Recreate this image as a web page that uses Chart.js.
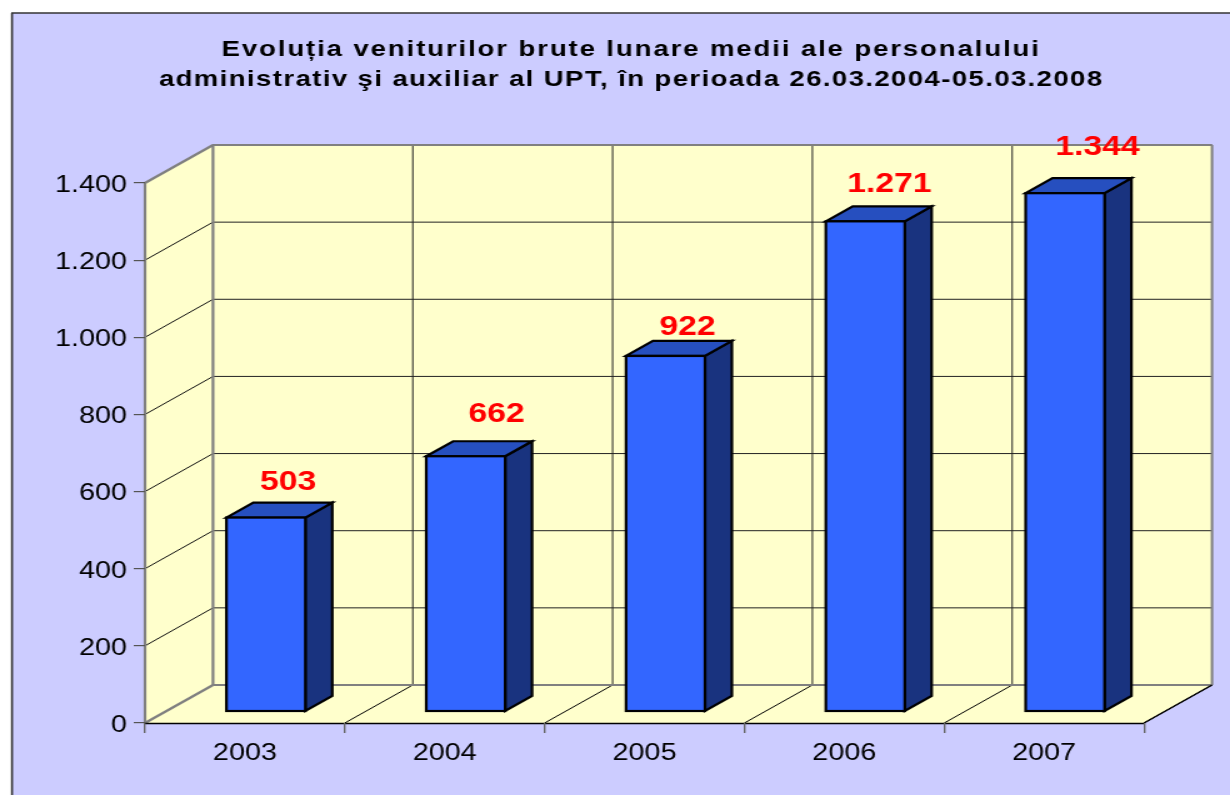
<!DOCTYPE html>
<html>
<head>
<meta charset="utf-8">
<style>
  html, body { margin: 0; padding: 0; background: #fff; overflow: hidden; }
  /* the source picture is stretched sideways by a quarter, text included */
  #myChart { display: block; transform: scaleX(1.25); transform-origin: 0 0; }
</style>
<script src="https://cdn.jsdelivr.net/npm/chart.js@4"></script>
</head>
<body>
<canvas id="myChart" width="984" height="795"></canvas>
<script>
const years = ['2003', '2004', '2005', '2006', '2007']
const income = [503, 662, 922, 1271, 1344]
const incomeLabels = ['503', '662', '922', '1.271', '1.344']
const yTickLabels = ['0', '200', '400', '600', '800', '1.000', '1.200', '1.400']
const titleLines = [
  'Evoluția veniturilor brute lunare medii ale personalului',
  'administrativ şi auxiliar al UPT, în perioada 26.03.2004-05.03.2008'
]

// each title line has its own tracking in the original
const titleSpacing = ['1.53px', '1.13px']
const titleBaseline = [56, 86]
const titleCenter = 505

// the labels do not sit evenly above the bars in the original
const labelNudgeX = [17.7, 24.7, 17.7, 19.2, 26]
const labelNudgeY = [27.6, 34.6, 20.6, 29.6, 38.6]

const wallDepth = { x: 54.4, y: -38 }
const barDepth = { x: 21.5, y: -15 }
const barShift = { x: 16.8, y: -11.4 }
const barLine = 2.2

function poly(ctx, pts) {
  ctx.beginPath()
  pts.forEach((p, i) => i ? ctx.lineTo(p[0], p[1]) : ctx.moveTo(p[0], p[1]))
  ctx.closePath()
}

function seg(ctx, x1, y1, x2, y2, color, width) {
  ctx.strokeStyle = color
  ctx.lineWidth = width
  ctx.beginPath()
  ctx.moveTo(x1, y1)
  ctx.lineTo(x2, y2)
  ctx.stroke()
}

const box3d = {
  id: 'box3d',
  beforeDraw(chart) {
    const ctx = chart.ctx
    const { left: L, right: R, top: T, bottom: B } = chart.chartArea
    const dx = wallDepth.x, dy = wallDepth.y
    const xs = chart.scales.x, ys = chart.scales.y

    ctx.save()
    ctx.fillStyle = '#fff'
    ctx.fillRect(0, 0, chart.width, chart.height)
    ctx.fillStyle = '#CCCCFF'
    ctx.fillRect(10, 13, chart.width, chart.height)
    seg(ctx, 9.6, 13, 9.6, chart.height, '#333', 1.6)
    seg(ctx, 9, 13, chart.width, 13, '#333', 1.5)

    // title
    ctx.font = 'bold 22px "Liberation Sans"'
    ctx.fillStyle = '#000'
    ctx.textAlign = 'center'
    ctx.textBaseline = 'alphabetic'
    titleLines.forEach((line, i) => {
      ctx.letterSpacing = titleSpacing[i]
      ctx.fillText(line, titleCenter, titleBaseline[i])
    })
    ctx.letterSpacing = '0px'

    // walls and floor
    ctx.fillStyle = '#FFFFCC'
    poly(ctx, [[L, T], [L + dx, T + dy], [R + dx, T + dy], [R + dx, B + dy], [R, B], [L, B]])
    ctx.fill()

    // gridlines
    ys.ticks.forEach((t, i) => {
      const y = ys.getPixelForTick(i)
      if (i > 0) seg(ctx, L, y, L + dx, y + dy, '#111', 1)
      seg(ctx, L + dx, y + dy, R + dx, y + dy, '#222', 1)
    })
    for (let i = 1; i <= years.length; i++) {
      const x = i < years.length ? (xs.getPixelForTick(i - 1) + xs.getPixelForTick(i)) / 2 : R
      if (i < years.length) seg(ctx, x + dx, T + dy, x + dx, B + dy, '#222', 1)
      seg(ctx, x, B, x + dx, B + dy, '#000', 1)
    }

    // grey edges of the box
    const grey = '#808080'
    seg(ctx, L, T, L + dx, T + dy, grey, 2.2)
    seg(ctx, L + dx, T + dy, R + dx, T + dy, grey, 2.2)
    seg(ctx, R + dx, T + dy, R + dx, B + dy, grey, 2)
    seg(ctx, L + dx, T + dy, L + dx, B + dy, grey, 2.2)
    seg(ctx, L + dx, B + dy, R + dx, B + dy, grey, 2.2)
    seg(ctx, L, B, L + dx, B + dy, grey, 2.2)
    seg(ctx, L, T, L, B, grey, 2.2)
    seg(ctx, L, B + 0.5, R, B + 0.5, '#000', 1.4)
    seg(ctx, R, B, R + dx, B + dy, '#000', 1.4)
    ctx.restore()
  },
  beforeDatasetsDraw(chart) {
    const ctx = chart.ctx
    const dx = barDepth.x, dy = barDepth.y
    ctx.save()
    ctx.translate(barShift.x, barShift.y)
    ctx.lineWidth = barLine
    ctx.lineJoin = 'miter'
    ctx.strokeStyle = '#000'
    chart.getDatasetMeta(0).data.forEach(bar => {
      const l = bar.x - bar.width / 2, r = bar.x + bar.width / 2
      ctx.fillStyle = '#19337F'
      poly(ctx, [[r, bar.y], [r + dx, bar.y + dy], [r + dx, bar.base + dy], [r, bar.base]])
      ctx.fill()
      ctx.stroke()
      ctx.fillStyle = '#264FBF'
      poly(ctx, [[l, bar.y], [l + dx, bar.y + dy], [r + dx, bar.y + dy], [r, bar.y]])
      ctx.fill()
      ctx.stroke()
    })
  },
  afterDatasetsDraw(chart) {
    const ctx = chart.ctx
    // outline sits centred on the bar edge, the library would put it inside
    chart.getDatasetMeta(0).data.forEach(bar => {
      ctx.strokeRect(bar.x - bar.width / 2, bar.y, bar.width, bar.base - bar.y)
    })
    ctx.restore()
    ctx.save()
    ctx.font = 'bold 27px "Liberation Sans"'
    ctx.fillStyle = '#FF0000'
    ctx.textAlign = 'center'
    ctx.textBaseline = 'alphabetic'
    chart.getDatasetMeta(0).data.forEach((bar, i) => {
      ctx.fillText(incomeLabels[i], bar.x + barShift.x + labelNudgeX[i], bar.y + barShift.y - labelNudgeY[i])
    })
    ctx.restore()
  }
}

const ctx = document.getElementById('myChart').getContext('2d')
new Chart(ctx, {
  type: 'bar',
  data: {
    labels: years,
    datasets: [{
      data: income,
      backgroundColor: '#3366FF',
      borderWidth: 0,
      barPercentage: 0.395,
      categoryPercentage: 1
    }]
  },
  plugins: [box3d],
  options: {
    responsive: false,
    animation: false,
    layout: { padding: { left: 0, right: 68.8, top: 183, bottom: 0 } },
    plugins: {
      legend: { display: false },
      tooltip: { enabled: false }
    },
    scales: {
      x: {
        afterFit(scale) { scale.height = 72 },
        border: { display: false },
        grid: { drawOnChartArea: false, tickLength: 10, tickColor: '#666', lineWidth: 1.4 },
        ticks: { color: '#000', font: { family: '"Liberation Sans"', size: 23 }, padding: 7, maxRotation: 0 }
      },
      y: {
        min: 0,
        max: 1400,
        afterFit(scale) { scale.width = 116 },
        border: { display: false },
        grid: { drawOnChartArea: false, tickLength: 9, tickColor: '#555', lineWidth: 1.2 },
        ticks: {
          stepSize: 200,
          color: '#000',
          font: { family: '"Liberation Sans"', size: 23 },
          padding: 5.5,
          labelOffset: 2.5,
          callback: (value, i) => yTickLabels[i]
        }
      }
    }
  }
})
</script>
</body>
</html>
